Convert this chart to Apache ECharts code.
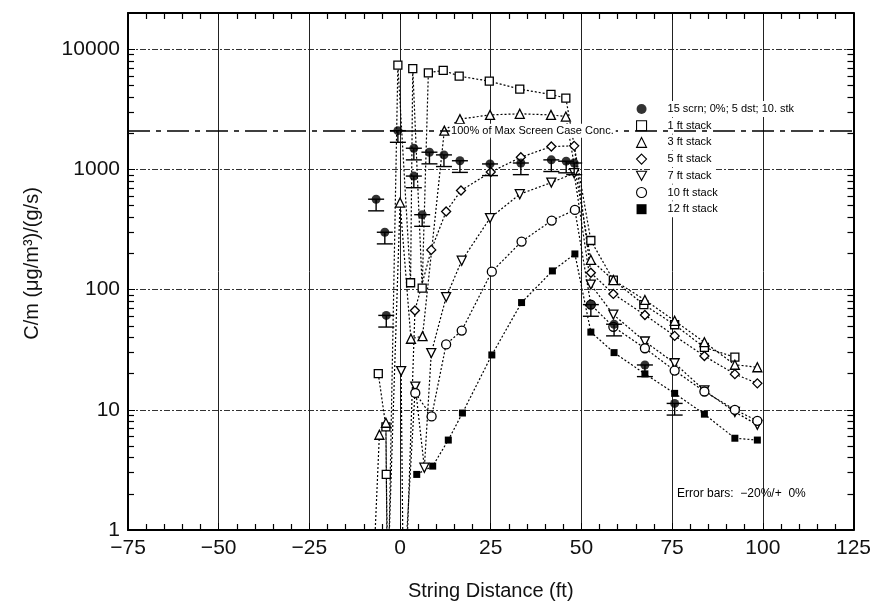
<!DOCTYPE html>
<html>
<head>
<meta charset="utf-8">
<script src="https://cdn.jsdelivr.net/npm/echarts@6/dist/echarts.min.js"></script>
<style>
html, body { margin: 0; padding: 0; background: #fff; }
#chart { width: 874px; height: 606px; }
</style>
</head>
<body>
<div id="chart"></div>
<script>
// [string distance (ft), C/m]
var screen15 = [[-6.6, 565], [-4.2, 300], [-3.8, 61], [-0.6, 2100], [3.8, 1500], [3.8, 880], [6.1, 420], [8.1, 1390], [12.1, 1320], [16.5, 1180], [24.8, 1110], [33.3, 1130], [41.7, 1200], [45.8, 1170], [48.0, 1130], [52.6, 75], [59.0, 51.5], [67.5, 23.6], [75.7, 11.3]];
var stack1 = [[-6.0, 20], [-3.9, 7.2], [-3.8, 2.9], [-3.3, 0.3], [-0.6, 7360], [2.9, 114], [3.5, 6900], [6.1, 103], [7.8, 6360], [11.9, 6660], [16.3, 5970], [24.6, 5420], [33.0, 4650], [41.6, 4200], [45.7, 3920], [52.6, 256], [58.8, 120], [67.2, 75], [75.7, 51], [83.9, 33], [92.3, 27.4]];
var stack3 = [[-7.6, 0.3], [-5.7, 6.2], [-3.9, 7.8], [-3.5, 0.3], [0.0, 530], [3.0, 39], [6.2, 41], [12.2, 2100], [16.5, 2620], [24.8, 2840], [33.0, 2900], [41.6, 2840], [45.7, 2750], [52.6, 177], [58.8, 120], [67.5, 82], [75.7, 55], [83.9, 36.5], [92.3, 23.7], [98.5, 22.6]];
var stack5 = [[1.5, 0.3], [4.1, 67], [8.6, 214], [12.7, 446], [16.8, 667], [25.0, 950], [33.3, 1262], [41.7, 1550], [48.0, 1570], [52.6, 138], [58.8, 92], [67.5, 61.5], [75.7, 41.2], [83.9, 28], [92.3, 19.8], [98.5, 16.6]];
var stack7 = [[0.3, 21], [0.9, 0.3], [4.2, 15.6], [6.7, 3.3], [8.6, 29.6], [12.7, 86.5], [17.0, 174], [24.8, 393], [33.0, 622], [41.7, 776], [48.0, 930], [52.6, 110], [58.8, 62], [67.5, 37], [75.7, 24.4], [83.9, 14.5], [92.3, 9.6], [98.5, 7.5]];
var stack10 = [[4.2, 13.8], [8.7, 8.8], [12.7, 35], [17.0, 45.6], [25.3, 141], [33.5, 251], [41.8, 375], [48.2, 460], [52.6, 75], [58.8, 49], [67.5, 32.5], [75.7, 21.2], [83.9, 14.2], [92.3, 10], [98.5, 8.1]];
var stack12 = [[4.6, 2.9], [9.0, 3.4], [13.3, 5.6], [17.2, 9.4], [25.3, 28.6], [33.5, 78], [42.0, 143], [48.2, 198], [52.6, 44.3], [59.0, 29.9], [67.5, 19.9], [75.7, 13.7], [83.9, 9.2], [92.3, 5.8], [98.5, 5.6]];

var seriesNames = ['15 scrn; 0%; 5 dst; 10. stk', '1 ft stack', '3 ft stack', '5 ft stack', '7 ft stack', '10 ft stack', '12 ft stack'];
var maxScreenConc = 2100;
var errLow = 0.2;   // error bars: -20% / +0%

var FONT = 'Liberation Sans, Arial, sans-serif';
var downTri = 'path://M0,0L10,0L5,9Z';
var hollow = { color: '#fff', borderColor: '#000', borderWidth: 1.3 };
var dotted = { color: '#000', width: 1.2, type: [2, 2] };

function stackSeries(name, data, symbol, size, filled) {
  return {
    type: 'line', name: name, data: data, symbol: symbol, symbolSize: size,
    lineStyle: dotted, itemStyle: filled ? { color: '#000' } : hollow,
    emphasis: { disabled: true }, z: 4
  };
}

function axisFrame(extra) {
  var base = {
    axisLine: { onZero: false, lineStyle: { color: '#000', width: 2 } },
    axisTick: { inside: true, length: 7, lineStyle: { color: '#000' } }
  };
  return Object.assign(base, extra);
}

var chart = echarts.init(document.getElementById('chart'));
var option = {
  backgroundColor: '#fff',
  animation: false,
  grid: { left: 128, right: 19, top: 13, bottom: 76 },
  legend: {
    orient: 'vertical', left: 631, top: 96,
    itemWidth: 10, itemHeight: 10, itemGap: 0.7,
    selectedMode: false,
    itemStyle: { borderWidth: 1.1 },
    textStyle: { fontFamily: FONT, fontSize: 11, color: '#000', lineHeight: 12,
      backgroundColor: '#fff', padding: [2, 4, 2, 16] },
    data: [
      { name: seriesNames[0], icon: 'circle' },
      { name: seriesNames[1], icon: 'rect' },
      { name: seriesNames[2], icon: 'triangle' },
      { name: seriesNames[3], icon: 'diamond' },
      { name: seriesNames[4], icon: downTri },
      { name: seriesNames[5], icon: 'circle' },
      { name: seriesNames[6], icon: 'rect' }
    ]
  },
  xAxis: [axisFrame({
    type: 'value', min: -75, max: 125, interval: 25,
    name: 'String Distance (ft)', nameLocation: 'middle', nameGap: 51,
    nameTextStyle: { fontFamily: FONT, fontSize: 20, color: '#111' },
    minorTick: { show: true, splitNumber: 5, length: 6, lineStyle: { color: '#000', width: 1.2 } },
    axisLabel: { fontFamily: FONT, fontSize: 21, color: '#111', margin: 8,
      formatter: function (v) { return v < 0 ? '\u2212' + Math.abs(v) : String(v); } },
    splitLine: { show: true, lineStyle: { color: '#222', width: 1 } }
  }), axisFrame({
    type: 'value', position: 'top', min: -75, max: 125, interval: 25,
    minorTick: { show: true, splitNumber: 5, length: 6, lineStyle: { color: '#000', width: 1.2 } },
    axisLabel: { show: false }, splitLine: { show: false }
  })],
  yAxis: [axisFrame({
    type: 'log', logBase: 10, min: 1, max: 20000, interval: 1,
    name: 'C/m (\u03bcg/m\u00b3)/(g/s)', nameLocation: 'middle', nameGap: 86,
    nameTextStyle: { fontFamily: FONT, fontSize: 20, color: '#111', padding: [0, 0, 0, 16] },
    minorTick: { show: true, splitNumber: 9, length: 6, lineStyle: { color: '#000', width: 1.2 } },
    axisLabel: { fontFamily: FONT, fontSize: 21, color: '#111', margin: 8, showMaxLabel: false,
      formatter: function (v) { return String(Math.round(v)); } },
    splitLine: { show: true, lineStyle: { color: '#333', width: 1, type: [6, 2, 2, 2] } }
  }), axisFrame({
    type: 'log', logBase: 10, min: 1, max: 20000, interval: 1, position: 'right',
    minorTick: { show: true, splitNumber: 9, length: 6, lineStyle: { color: '#000', width: 1.2 } },
    axisLabel: { show: false }, splitLine: { show: false }
  })],
  graphic: [{
    type: 'text', left: 677, top: 488, z: 10,
    style: { text: 'Error bars:  \u221220%/+  0%', font: '12px ' + FONT, fill: '#000' }
  }],
  series: [
    {
      type: 'scatter', name: seriesNames[0], data: screen15, symbol: 'circle', symbolSize: 9,
      itemStyle: { color: '#000' }, z: 6,
      markLine: {
        silent: true, symbol: 'none', label: { show: false },
        lineStyle: { color: '#000', width: 1.5, type: [22, 6, 5, 6] },
        data: [{ yAxis: maxScreenConc }]
      }
    },
    {
      type: 'custom', name: 'error bars', data: screen15, z: 5, silent: true,
      encode: { x: 0, y: 1 },
      renderItem: function (params, api) {
        var x = api.value(0), y = api.value(1);
        var p0 = api.coord([x, y]);
        var p1 = api.coord([x, y * (1 - errLow)]);
        var hw = 8, st = { stroke: '#000', lineWidth: 1.4 };
        return { type: 'group', children: [
          { type: 'line', shape: { x1: p0[0], y1: p0[1], x2: p1[0], y2: p1[1] }, style: st },
          { type: 'line', shape: { x1: p0[0] - hw, y1: p0[1], x2: p0[0] + hw, y2: p0[1] }, style: st },
          { type: 'line', shape: { x1: p1[0] - hw, y1: p1[1], x2: p1[0] + hw, y2: p1[1] }, style: st }
        ] };
      }
    },
    stackSeries(seriesNames[1], stack1, 'rect', 8, false),
    (function () {
      var s = stackSeries(seriesNames[2], stack3, 'triangle', 9, false);
      s.markPoint = {
        silent: true, symbol: 'rect', symbolSize: 0,
        label: { show: true, position: 'right', distance: 4, formatter: '100% of Max Screen Case Conc.',
          fontFamily: FONT, fontSize: 11, color: '#000', backgroundColor: '#fff', padding: [2, 2, 1, 1] },
        data: [{ coord: [12.7, maxScreenConc] }]
      };
      return s;
    })(),
    stackSeries(seriesNames[3], stack5, 'diamond', 9, false),
    stackSeries(seriesNames[4], stack7, downTri, 9, false),
    stackSeries(seriesNames[5], stack10, 'circle', 9, false),
    stackSeries(seriesNames[6], stack12, 'rect', 7, true)
  ]
};
chart.setOption(option);
</script>
</body>
</html>
